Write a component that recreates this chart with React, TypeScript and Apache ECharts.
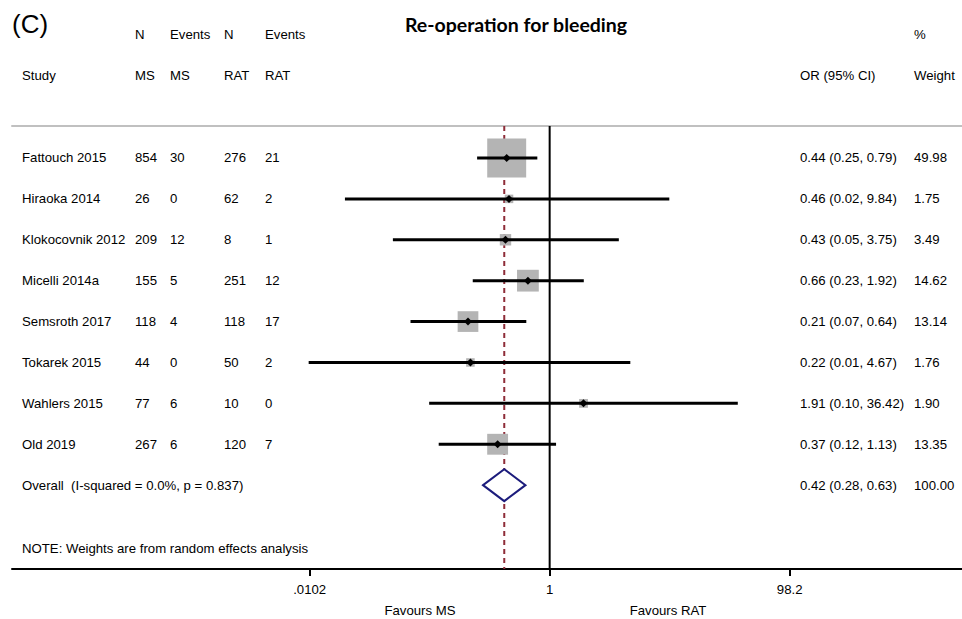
import React, { useEffect, useRef } from "react";
import * as echarts from "echarts";

// ---------- data ----------
const studies = [
  "Fattouch 2015",
  "Hiraoka 2014",
  "Klokocovnik 2012",
  "Micelli 2014a",
  "Semsroth 2017",
  "Tokarek 2015",
  "Wahlers 2015",
  "Old 2019",
];
const nMS = ["854", "26", "209", "155", "118", "44", "77", "267"];
const eventsMS = ["30", "0", "12", "5", "4", "0", "6", "6"];
const nRAT = ["276", "62", "8", "251", "118", "50", "10", "120"];
const eventsRAT = ["21", "2", "1", "12", "17", "2", "0", "7"];
const orEst = [0.44, 0.46, 0.43, 0.66, 0.21, 0.22, 1.91, 0.37];
const orLow = [0.25, 0.02, 0.05, 0.23, 0.07, 0.01, 0.1, 0.12];
const orHigh = [0.79, 9.84, 3.75, 1.92, 0.64, 4.67, 36.42, 1.13];
const weights = ["49.98", "1.75", "3.49", "14.62", "13.14", "1.76", "1.90", "13.35"];

const overallLabel = "Overall\u00a0 (I-squared = 0.0%, p = 0.837)";
const overallEst = 0.42;
const overallLow = 0.28;
const overallHigh = 0.63;
const overallWeight = "100.00";

const tickValues = [0.0102, 1, 98.2];
const tickLabels = [".0102", "1", "98.2"];

// ---------- layout ----------
const W = 962;
const H = 619;
const FONT = "'Liberation Sans', Arial, sans-serif";
const FS = 13.2;
const XMIN = -4.462;
const XMAX = 3.422;
const YMIN = -0.782;
const YMAX = 10.05;
const COLS = { study: 22, nMS: 135, eMS: 170, nRAT: 224, eRAT: 265, or: 800, w: 914 };

const lg = (v: number) => Math.log10(v);
const fmt = (v: number) => v.toFixed(2);

function txt(text: string, x: number, y: number, extra: any = {}) {
  return {
    type: "text",
    x,
    y,
    style: {
      text,
      fill: "#000",
      fontSize: FS,
      fontFamily: FONT,
      align: "left",
      verticalAlign: "middle",
      textAlign: "left",
      textVerticalAlign: "middle",
      ...extra,
    },
  };
}

export default function App() {
  const ref = useRef<HTMLDivElement>(null);

  useEffect(() => {
    if (!ref.current) return;
    const chart = echarts.init(ref.current, null, { renderer: "svg", width: W, height: H });

    const forestData = studies.map((_, i) => [i, lg(orEst[i]), lg(orLow[i]), lg(orHigh[i]), parseFloat(weights[i])]);
    const tickLogs = tickValues.map(lg);

    const option: any = {
      animation: false,
      backgroundColor: "#fff",
      grid: { left: 12, right: 0, top: 126, bottom: 50, containLabel: false },
      xAxis: [
        {
          type: "value",
          min: XMIN,
          max: XMAX,
          position: "bottom",
          axisLine: { show: true, onZero: false, lineStyle: { color: "#000", width: 2 } },
          axisTick: { show: true, customValues: tickLogs, length: 7, lineStyle: { color: "#000", width: 2 } },
          axisLabel: {
            show: true,
            customValues: tickLogs,
            margin: 14,
            fontSize: FS,
            fontFamily: FONT,
            color: "#000",
            formatter: (v: number) => {
              let best = 0;
              tickLogs.forEach((t, k) => {
                if (Math.abs(t - v) < Math.abs(tickLogs[best] - v)) best = k;
              });
              return tickLabels[best];
            },
          },
          splitLine: { show: false },
        },
        {
          type: "value",
          min: XMIN,
          max: XMAX,
          position: "top",
          axisLine: { show: true, onZero: false, lineStyle: { color: "#c0c0c0", width: 2 } },
          axisTick: { show: false },
          axisLabel: { show: false },
          splitLine: { show: false },
        },
      ],
      yAxis: { type: "value", min: YMIN, max: YMAX, inverse: true, show: false },
      series: [
        // reference lines (null line at 1 and dashed overall estimate)
        {
          type: "custom",
          z: 1,
          data: [[0, 0], [lg(overallEst), 1]],
          renderItem: (params: any, api: any) => {
            const x = api.value(0);
            const dashed = api.value(1) === 1;
            const p1 = api.coord([x, YMIN]);
            const p2 = api.coord([x, YMAX]);
            return {
              type: "line",
              shape: { x1: p1[0], y1: p1[1], x2: p2[0], y2: p2[1] },
              style: dashed
                ? { stroke: "#8e2c38", lineWidth: 2, lineDash: [5, 4] }
                : { stroke: "#000", lineWidth: 2 },
            };
          },
        },
        // study boxes, CIs, point estimates
        {
          type: "custom",
          z: 2,
          data: forestData,
          renderItem: (params: any, api: any) => {
            const row = api.value(0);
            const c = api.coord([api.value(1), row]);
            const l = api.coord([api.value(2), row]);
            const h = api.coord([api.value(3), row]);
            const s = 5.3 * Math.sqrt(api.value(4)) + 1.5;
            const d = 4;
            return {
              type: "group",
              children: [
                { type: "rect", shape: { x: c[0] - s / 2, y: c[1] - s / 2, width: s, height: s }, style: { fill: "#b4b4b4" } },
                { type: "line", shape: { x1: l[0], y1: l[1], x2: h[0], y2: h[1] }, style: { stroke: "#000", lineWidth: 3 } },
                {
                  type: "polygon",
                  shape: { points: [[c[0] - d, c[1]], [c[0], c[1] - d], [c[0] + d, c[1]], [c[0], c[1] + d]] },
                  style: { fill: "#000" },
                },
              ],
            };
          },
        },
        // overall diamond
        {
          type: "custom",
          z: 3,
          data: [[studies.length, lg(overallEst), lg(overallLow), lg(overallHigh)]],
          renderItem: (params: any, api: any) => {
            const row = api.value(0);
            const c = api.coord([api.value(1), row]);
            const l = api.coord([api.value(2), row]);
            const h = api.coord([api.value(3), row]);
            const hh = 16;
            return {
              type: "polygon",
              shape: { points: [[l[0], l[1]], [c[0], c[1] - hh], [h[0], h[1]], [c[0], c[1] + hh]] },
              style: { fill: "#fff", stroke: "#1c1c7c", lineWidth: 2 },
            };
          },
        },
        // table text
        {
          type: "custom",
          z: 4,
          data: studies.map((_, i) => [i]).concat([[studies.length]]),
          renderItem: (params: any, api: any) => {
            const i = params.dataIndex;
            const y = api.coord([0, api.value(0)])[1];
            if (i < studies.length) {
              return {
                type: "group",
                children: [
                  txt(studies[i], COLS.study, y),
                  txt(nMS[i], COLS.nMS, y),
                  txt(eventsMS[i], COLS.eMS, y),
                  txt(nRAT[i], COLS.nRAT, y),
                  txt(eventsRAT[i], COLS.eRAT, y),
                  txt(`${fmt(orEst[i])} (${fmt(orLow[i])}, ${fmt(orHigh[i])})`, COLS.or, y),
                  txt(weights[i], COLS.w, y),
                ],
              };
            }
            return {
              type: "group",
              children: [
                txt(overallLabel, COLS.study, y),
                txt(`${fmt(overallEst)} (${fmt(overallLow)}, ${fmt(overallHigh)})`, COLS.or, y),
                txt(overallWeight, COLS.w, y),
              ],
            };
          },
        },
      ],
      graphic: [
        txt("(C)", 12, 24, { fontSize: 26 }),
        txt("Re-operation for bleeding", 516, 24, {
          fontSize: 19.5,
          fontWeight: "bold",
          fontFamily: "Lato, 'Open Sans', sans-serif",
          align: "center",
          textAlign: "center",
        }),
        txt("N", COLS.nMS, 34),
        txt("Events", COLS.eMS, 34),
        txt("N", COLS.nRAT, 34),
        txt("Events", COLS.eRAT, 34),
        txt("%", COLS.w, 34),
        txt("Study", COLS.study, 75),
        txt("MS", COLS.nMS, 75),
        txt("MS", COLS.eMS, 75),
        txt("RAT", COLS.nRAT, 75),
        txt("RAT", COLS.eRAT, 75),
        txt("OR (95% CI)", COLS.or, 75),
        txt("Weight", COLS.w, 75),
        txt("NOTE: Weights are from random effects analysis", COLS.study, 548),
        txt("Favours MS", 420, 610, { align: "center", textAlign: "center" }),
        txt("Favours RAT", 668, 610, { align: "center", textAlign: "center" }),
      ],
    };

    chart.setOption(option);
    return () => chart.dispose();
  }, []);

  return (
    <div
      ref={ref}
      style={{ position: "fixed", left: 0, top: 0, width: W, height: H, background: "#fff" }}
    />
  );
}
